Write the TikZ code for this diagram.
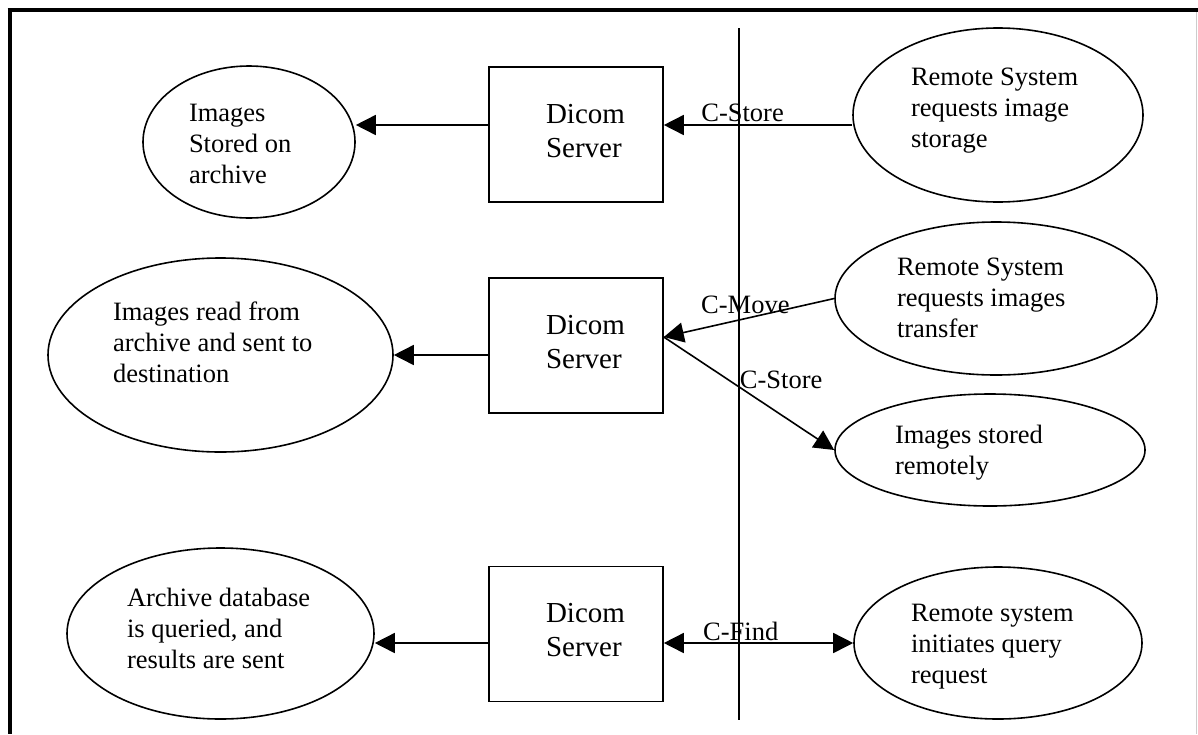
\documentclass[tikz,border=0pt]{standalone}
\usepackage{fontspec}
\setmainfont{Liberation Serif}
\usetikzlibrary{arrows.meta,shapes.geometric,calc}

% Left-aligned block of lines, placed relative to the node centre:
% #1 = offset of the left edge, #2 = height of the first baseline above the centre.
\newcommand\insettext[3]{\makebox[0pt][l]{\hspace*{#1}\raisebox{#2}[0pt][0pt]{\begin{tabular}[t]{@{}l@{}}#3\end{tabular}}}}

\begin{document}
\begin{tikzpicture}[x=1pt,y=-1pt,
  every node/.style={inner sep=0pt},
  oval/.style={draw, ellipse, line width=1.6pt, font=\fontsize{26.5}{31}\selectfont},
  server/.style={draw, rectangle, line width=1.6pt, minimum width=174pt,
                 minimum height=135pt, font=\fontsize{29}{34}\selectfont},
  conn/.style={line width=1.6pt, -{Triangle[length=20pt,width=20pt]}},
  both/.style={line width=1.6pt, {Triangle[length=20pt,width=20pt]}-{Triangle[length=20pt,width=20pt]}},
  lbl/.style={font=\fontsize{26.5}{31}\selectfont, anchor=base west},
  divider/.style={line width=1.7pt},
]
\fill[white] (0,0) rectangle (1198,734);
\useasboundingbox (0,0) rectangle (1198,734);

% page frame
\draw[line width=4pt] (7.5,10) -- (1198,10);
\draw[line width=4pt] (9.5,8) -- (9.5,734);
\draw[black!20, line width=1pt] (1196,12) -- (1196,734);

% local / remote divider
\coordinate (divtop) at (739,28);
\coordinate (divbot) at (739,720);
\draw[divider] (divtop) -- (divbot);

% servers
\node[server] (B1) at (576,134.5) {\insettext{-30pt}{11.5pt}{Dicom\\Server}};
\node[server] (B2) at (576,345.5) {\insettext{-30pt}{11.5pt}{Dicom\\Server}};
\node[server] (B3) at (576,634)   {\insettext{-30pt}{11.5pt}{Dicom\\Server}};

% archive side
\node[oval, minimum width=212pt, minimum height=152pt] (E1) at (249,142)
  {\insettext{-60pt}{21pt}{Images\\Stored on\\archive}};
\node[oval, minimum width=345pt, minimum height=194pt] (E2) at (220.5,355)
  {\insettext{-107.5pt}{35pt}{Images read from\\archive and sent to\\destination}};
\node[oval, minimum width=307pt, minimum height=171pt] (E3) at (220.5,633.5)
  {\insettext{-93.5pt}{27.5pt}{Archive database\\is queried, and\\results are sent}};

% remote side
\node[oval, minimum width=290pt, minimum height=174pt] (R1) at (998,115)
  {\insettext{-87pt}{30pt}{Remote System\\requests image\\storage}};
\node[oval, minimum width=322pt, minimum height=153pt] (R2) at (996,298.5)
  {\insettext{-99pt}{23.5pt}{Remote System\\requests images\\transfer}};
\node[oval, minimum width=310pt, minimum height=112pt] (R3) at (990,450)
  {\insettext{-95pt}{7pt}{Images stored\\remotely}};
\node[oval, minimum width=288pt, minimum height=152pt] (R4) at (998,643)
  {\insettext{-87pt}{22pt}{Remote system\\initiates query\\request}};

% store
\coordinate (row1) at (0,125);
\draw[conn] (R1.west |- row1) -- node[lbl, pos=0.805, yshift=4pt] {C-Store} (B1.east |- row1);
\draw[conn] (B1.west |- row1) -- (E1.east |- row1);

% move
\coordinate (b2port) at ($(B2.east)+(0,-8.5)$);
\draw[conn] (R2.west) -- node[lbl, pos=0.785, yshift=15.7pt] {C-Move} (b2port);
\draw[conn] (b2port) -- node[lbl, pos=0.442, yshift=-2pt] {C-Store} (R3.west);
\draw[conn] (B2.west |- E2.east) -- (E2.east);

% find
\draw[both] (B3.east |- R4.west) -- node[lbl, pos=0.204, yshift=3pt] {C-Find} (R4.west);
\draw[conn] (B3.west |- R4.west) -- (E3.east |- R4.west);
\end{tikzpicture}
\end{document}
